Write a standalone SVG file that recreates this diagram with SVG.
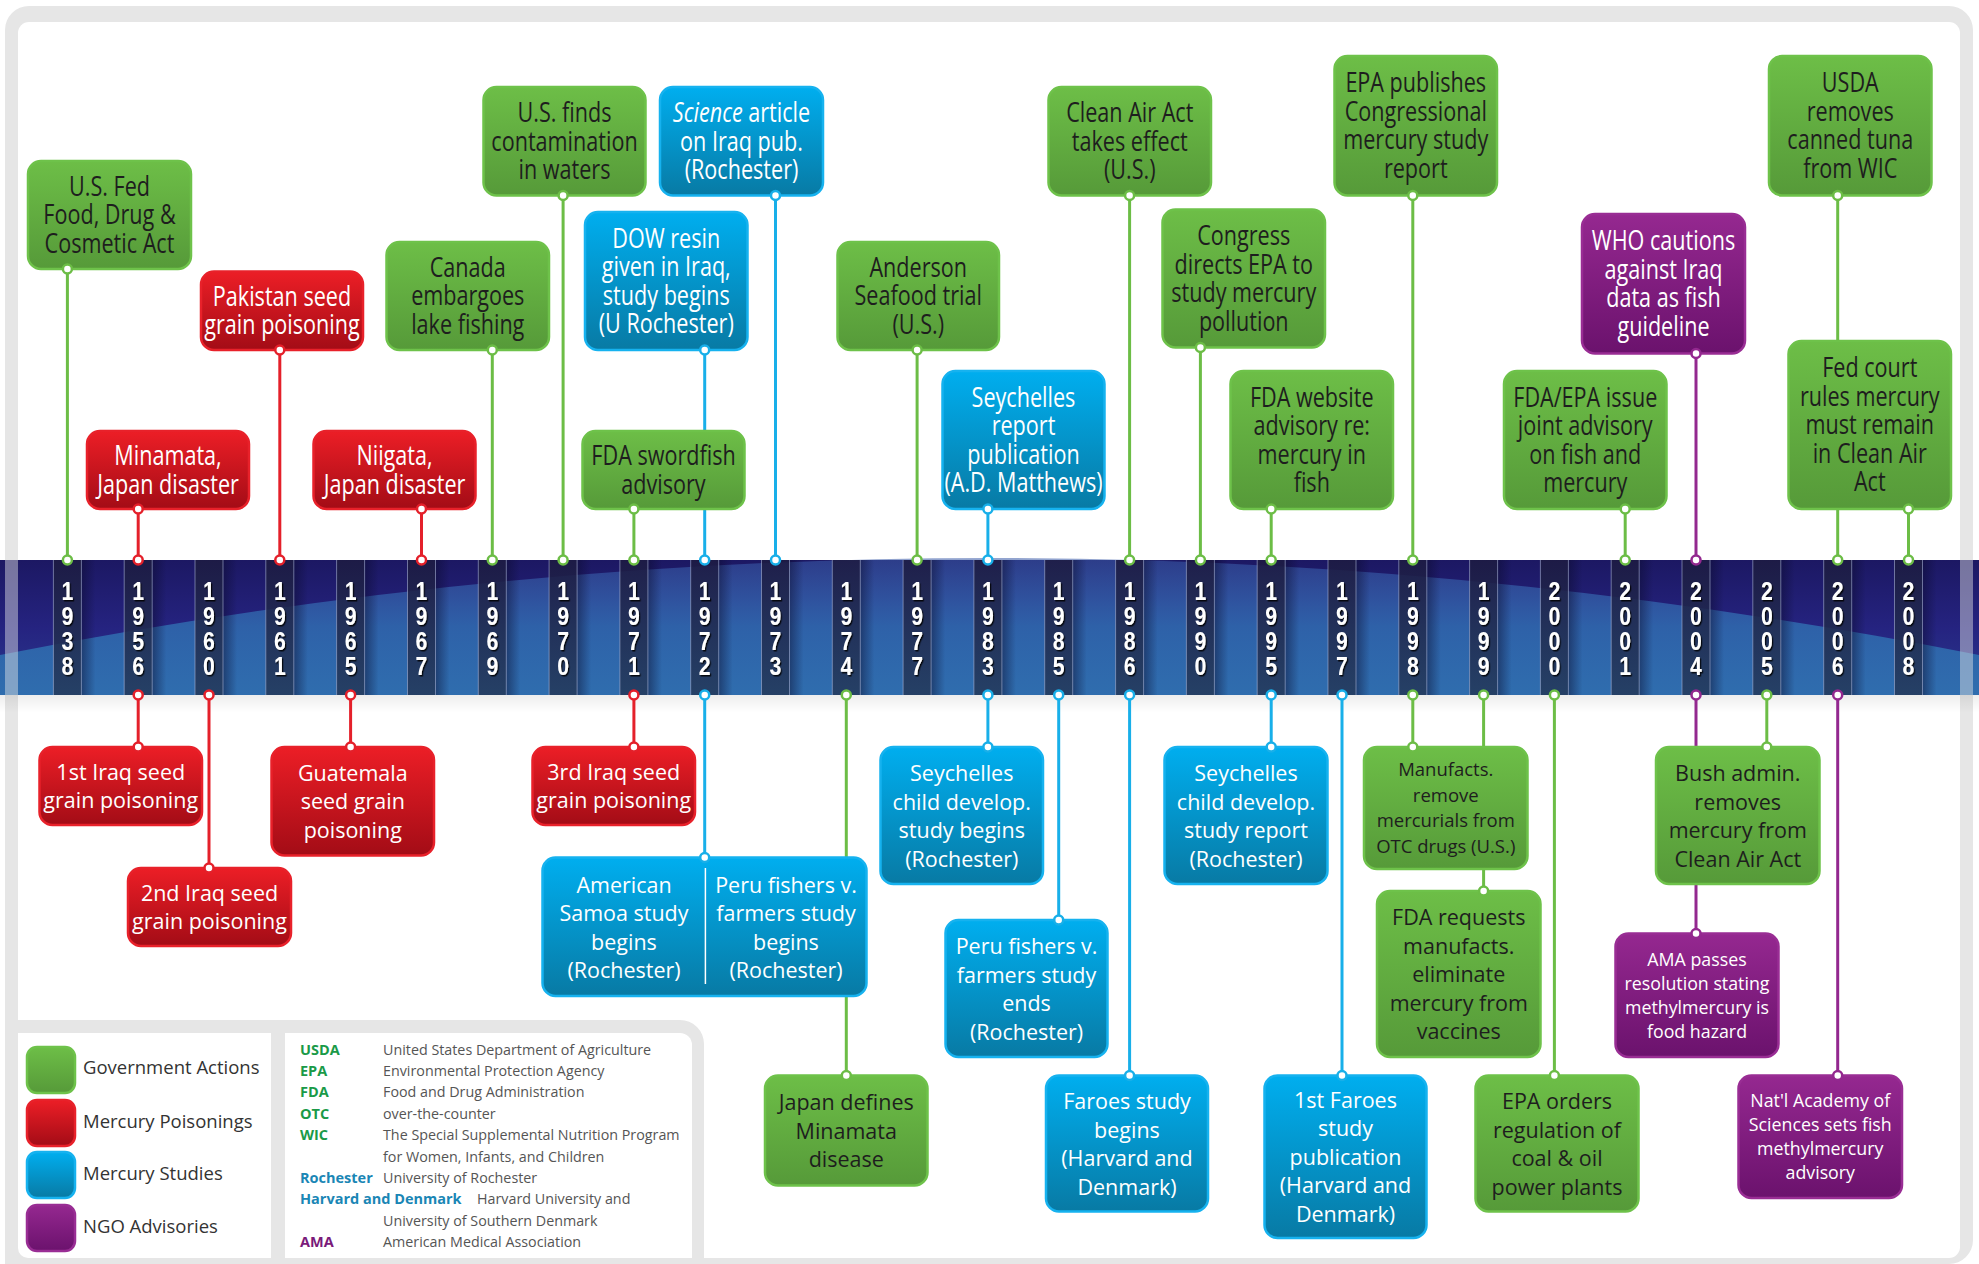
<svg xmlns="http://www.w3.org/2000/svg" xmlns:xlink="http://www.w3.org/1999/xlink" width="1979" height="1264" viewBox="0 0 1979 1264">
<defs>
<linearGradient id="gG" x1="0" y1="0" x2="0" y2="1"><stop offset="0" stop-color="#6dbe47"/><stop offset="1" stop-color="#569a39"/></linearGradient>
<linearGradient id="gR" x1="0" y1="0" x2="0" y2="1"><stop offset="0" stop-color="#ec1e26"/><stop offset="1" stop-color="#a30c16"/></linearGradient>
<linearGradient id="gB" x1="0" y1="0" x2="0" y2="1"><stop offset="0" stop-color="#00aeef"/><stop offset="1" stop-color="#087aa4"/></linearGradient>
<linearGradient id="gP" x1="0" y1="0" x2="0" y2="1"><stop offset="0" stop-color="#952890"/><stop offset="1" stop-color="#6b126d"/></linearGradient>
<linearGradient id="band" x1="0" y1="0" x2="0" y2="1"><stop offset="0" stop-color="#1c1863"/><stop offset="0.5" stop-color="#252380"/><stop offset="1" stop-color="#2a3a8e"/></linearGradient>
<linearGradient id="bandLight" x1="0" y1="0" x2="0" y2="1"><stop offset="0" stop-color="#3a5aa8" stop-opacity="0.55"/><stop offset="0.5" stop-color="#2f68ad" stop-opacity="0.9"/><stop offset="1" stop-color="#2f6dae"/></linearGradient>
<linearGradient id="stripG" x1="0" y1="0" x2="0" y2="1"><stop offset="0" stop-color="#1d1b42"/><stop offset="1" stop-color="#243a5c"/></linearGradient>
<linearGradient id="shadeG" x1="0" y1="0" x2="1" y2="0"><stop offset="0" stop-color="#0a0a2a" stop-opacity="0.45"/><stop offset="1" stop-color="#0a0a2a" stop-opacity="0"/></linearGradient>
<linearGradient id="underG" x1="0" y1="0" x2="0" y2="1"><stop offset="0" stop-color="#000" stop-opacity="0.07"/><stop offset="1" stop-color="#000" stop-opacity="0"/></linearGradient>
<filter id="ds" x="-50%" y="-20%" width="200%" height="140%"><feDropShadow dx="1.5" dy="1.5" stdDeviation="0.7" flood-color="#000" flood-opacity="0.85"/></filter>
<g id="strip">
<rect x="-14" y="560" width="28" height="135" fill="url(#stripG)" opacity="0.88"/>
<rect x="14" y="560" width="14" height="135" fill="url(#shadeG)"/>
<line x1="-14" y1="560" x2="-14" y2="695" stroke="#a6b0d2" stroke-width="1" opacity="0.6"/>
<line x1="14" y1="560" x2="14" y2="695" stroke="#a6b0d2" stroke-width="1" opacity="0.6"/>
</g>
</defs>
<style>
.g{fill:url(#gG);stroke:#6ec24a;stroke-width:2.5}
.r{fill:url(#gR);stroke:#e8212a;stroke-width:2.5}
.b{fill:url(#gB);stroke:#16b2ef;stroke-width:2.5}
.p{fill:url(#gP);stroke:#992d94;stroke-width:2.5}
.tn{font-family:'Open Sans','Noto Sans',sans-serif;font-size:27px;text-anchor:middle}
.tw{font-family:'Open Sans','Noto Sans',sans-serif;font-size:21.5px;text-anchor:middle}
.ts{font-family:'Open Sans','Noto Sans',sans-serif;font-size:18.5px;text-anchor:middle}
.tx{font-family:'Open Sans','Noto Sans',sans-serif;font-size:17.8px;text-anchor:middle}
.dk{fill:#1e1e1e}
.lt{fill:#ffffff}
.yr{font-family:'Liberation Sans','Arial',sans-serif;font-size:25px;font-weight:bold;fill:#fff;text-anchor:middle;filter:url(#ds)}
.cn line{stroke-width:3}
.lg{stroke:#6cbd46}.lr{stroke:#e4202a}.lb{stroke:#18afe9}.lp{stroke:#93288f}
.dots circle{fill:#fff;stroke-width:2.5}
.dg{stroke:#6cbd46}.dr{stroke:#e4202a}.db{stroke:#18afe9}.dp{stroke:#93288f}
.leg{font-family:'Open Sans','Noto Sans',sans-serif;font-size:18.5px;fill:#333}
.ab{font-family:'Open Sans','Noto Sans',sans-serif;font-size:14.5px;font-weight:bold}
.de{font-family:'Open Sans','Noto Sans',sans-serif;font-size:14.3px;fill:#555}
</style>

<!-- frame -->
<rect x="5" y="6" width="1968" height="1258" rx="24" fill="#e6e6e6"/>
<rect x="18" y="22" width="1942" height="1236" rx="11" fill="#ffffff"/>

<!-- timeline band -->
<g id="band-group">
<rect x="0" y="560" width="1979" height="135" fill="url(#band)"/>
<path d="M0,655 Q989.5,461 1979,655 L1979,695 L0,695 Z" fill="url(#bandLight)"/>
<rect x="0" y="695" width="1979" height="18" fill="url(#underG)"/>
<rect x="5" y="560" width="13" height="135" fill="#e6e6e6" opacity="0.45"/>
<rect x="1960" y="560" width="13" height="135" fill="#e6e6e6" opacity="0.45"/>
</g>

<g id="years">
<g transform="translate(67.4,0)"><use xlink:href="#strip"/><text class="yr" transform="scale(0.85 1)"><tspan x="0" y="600">1</tspan><tspan x="0" y="625">9</tspan><tspan x="0" y="650">3</tspan><tspan x="0" y="675">8</tspan></text></g>
<g transform="translate(138.2,0)"><use xlink:href="#strip"/><text class="yr" transform="scale(0.85 1)"><tspan x="0" y="600">1</tspan><tspan x="0" y="625">9</tspan><tspan x="0" y="650">5</tspan><tspan x="0" y="675">6</tspan></text></g>
<g transform="translate(209,0)"><use xlink:href="#strip"/><text class="yr" transform="scale(0.85 1)"><tspan x="0" y="600">1</tspan><tspan x="0" y="625">9</tspan><tspan x="0" y="650">6</tspan><tspan x="0" y="675">0</tspan></text></g>
<g transform="translate(279.8,0)"><use xlink:href="#strip"/><text class="yr" transform="scale(0.85 1)"><tspan x="0" y="600">1</tspan><tspan x="0" y="625">9</tspan><tspan x="0" y="650">6</tspan><tspan x="0" y="675">1</tspan></text></g>
<g transform="translate(350.6,0)"><use xlink:href="#strip"/><text class="yr" transform="scale(0.85 1)"><tspan x="0" y="600">1</tspan><tspan x="0" y="625">9</tspan><tspan x="0" y="650">6</tspan><tspan x="0" y="675">5</tspan></text></g>
<g transform="translate(421.5,0)"><use xlink:href="#strip"/><text class="yr" transform="scale(0.85 1)"><tspan x="0" y="600">1</tspan><tspan x="0" y="625">9</tspan><tspan x="0" y="650">6</tspan><tspan x="0" y="675">7</tspan></text></g>
<g transform="translate(492.3,0)"><use xlink:href="#strip"/><text class="yr" transform="scale(0.85 1)"><tspan x="0" y="600">1</tspan><tspan x="0" y="625">9</tspan><tspan x="0" y="650">6</tspan><tspan x="0" y="675">9</tspan></text></g>
<g transform="translate(563.1,0)"><use xlink:href="#strip"/><text class="yr" transform="scale(0.85 1)"><tspan x="0" y="600">1</tspan><tspan x="0" y="625">9</tspan><tspan x="0" y="650">7</tspan><tspan x="0" y="675">0</tspan></text></g>
<g transform="translate(633.9,0)"><use xlink:href="#strip"/><text class="yr" transform="scale(0.85 1)"><tspan x="0" y="600">1</tspan><tspan x="0" y="625">9</tspan><tspan x="0" y="650">7</tspan><tspan x="0" y="675">1</tspan></text></g>
<g transform="translate(704.7,0)"><use xlink:href="#strip"/><text class="yr" transform="scale(0.85 1)"><tspan x="0" y="600">1</tspan><tspan x="0" y="625">9</tspan><tspan x="0" y="650">7</tspan><tspan x="0" y="675">2</tspan></text></g>
<g transform="translate(775.5,0)"><use xlink:href="#strip"/><text class="yr" transform="scale(0.85 1)"><tspan x="0" y="600">1</tspan><tspan x="0" y="625">9</tspan><tspan x="0" y="650">7</tspan><tspan x="0" y="675">3</tspan></text></g>
<g transform="translate(846.3,0)"><use xlink:href="#strip"/><text class="yr" transform="scale(0.85 1)"><tspan x="0" y="600">1</tspan><tspan x="0" y="625">9</tspan><tspan x="0" y="650">7</tspan><tspan x="0" y="675">4</tspan></text></g>
<g transform="translate(917.1,0)"><use xlink:href="#strip"/><text class="yr" transform="scale(0.85 1)"><tspan x="0" y="600">1</tspan><tspan x="0" y="625">9</tspan><tspan x="0" y="650">7</tspan><tspan x="0" y="675">7</tspan></text></g>
<g transform="translate(987.9,0)"><use xlink:href="#strip"/><text class="yr" transform="scale(0.85 1)"><tspan x="0" y="600">1</tspan><tspan x="0" y="625">9</tspan><tspan x="0" y="650">8</tspan><tspan x="0" y="675">3</tspan></text></g>
<g transform="translate(1058.7,0)"><use xlink:href="#strip"/><text class="yr" transform="scale(0.85 1)"><tspan x="0" y="600">1</tspan><tspan x="0" y="625">9</tspan><tspan x="0" y="650">8</tspan><tspan x="0" y="675">5</tspan></text></g>
<g transform="translate(1129.6,0)"><use xlink:href="#strip"/><text class="yr" transform="scale(0.85 1)"><tspan x="0" y="600">1</tspan><tspan x="0" y="625">9</tspan><tspan x="0" y="650">8</tspan><tspan x="0" y="675">6</tspan></text></g>
<g transform="translate(1200.4,0)"><use xlink:href="#strip"/><text class="yr" transform="scale(0.85 1)"><tspan x="0" y="600">1</tspan><tspan x="0" y="625">9</tspan><tspan x="0" y="650">9</tspan><tspan x="0" y="675">0</tspan></text></g>
<g transform="translate(1271.2,0)"><use xlink:href="#strip"/><text class="yr" transform="scale(0.85 1)"><tspan x="0" y="600">1</tspan><tspan x="0" y="625">9</tspan><tspan x="0" y="650">9</tspan><tspan x="0" y="675">5</tspan></text></g>
<g transform="translate(1342,0)"><use xlink:href="#strip"/><text class="yr" transform="scale(0.85 1)"><tspan x="0" y="600">1</tspan><tspan x="0" y="625">9</tspan><tspan x="0" y="650">9</tspan><tspan x="0" y="675">7</tspan></text></g>
<g transform="translate(1412.8,0)"><use xlink:href="#strip"/><text class="yr" transform="scale(0.85 1)"><tspan x="0" y="600">1</tspan><tspan x="0" y="625">9</tspan><tspan x="0" y="650">9</tspan><tspan x="0" y="675">8</tspan></text></g>
<g transform="translate(1483.6,0)"><use xlink:href="#strip"/><text class="yr" transform="scale(0.85 1)"><tspan x="0" y="600">1</tspan><tspan x="0" y="625">9</tspan><tspan x="0" y="650">9</tspan><tspan x="0" y="675">9</tspan></text></g>
<g transform="translate(1554.4,0)"><use xlink:href="#strip"/><text class="yr" transform="scale(0.85 1)"><tspan x="0" y="600">2</tspan><tspan x="0" y="625">0</tspan><tspan x="0" y="650">0</tspan><tspan x="0" y="675">0</tspan></text></g>
<g transform="translate(1625.2,0)"><use xlink:href="#strip"/><text class="yr" transform="scale(0.85 1)"><tspan x="0" y="600">2</tspan><tspan x="0" y="625">0</tspan><tspan x="0" y="650">0</tspan><tspan x="0" y="675">1</tspan></text></g>
<g transform="translate(1696,0)"><use xlink:href="#strip"/><text class="yr" transform="scale(0.85 1)"><tspan x="0" y="600">2</tspan><tspan x="0" y="625">0</tspan><tspan x="0" y="650">0</tspan><tspan x="0" y="675">4</tspan></text></g>
<g transform="translate(1766.8,0)"><use xlink:href="#strip"/><text class="yr" transform="scale(0.85 1)"><tspan x="0" y="600">2</tspan><tspan x="0" y="625">0</tspan><tspan x="0" y="650">0</tspan><tspan x="0" y="675">5</tspan></text></g>
<g transform="translate(1837.7,0)"><use xlink:href="#strip"/><text class="yr" transform="scale(0.85 1)"><tspan x="0" y="600">2</tspan><tspan x="0" y="625">0</tspan><tspan x="0" y="650">0</tspan><tspan x="0" y="675">6</tspan></text></g>
<g transform="translate(1908.5,0)"><use xlink:href="#strip"/><text class="yr" transform="scale(0.85 1)"><tspan x="0" y="600">2</tspan><tspan x="0" y="625">0</tspan><tspan x="0" y="650">0</tspan><tspan x="0" y="675">8</tspan></text></g>
</g>

<!-- connectors -->
<g id="connectors" class="cn">
<line class="lg" x1="67.4" y1="269" x2="67.4" y2="560"/>
<line class="lr" x1="138.2" y1="509" x2="138.2" y2="560"/>
<line class="lr" x1="279.8" y1="350" x2="279.8" y2="560"/>
<line class="lr" x1="421.5" y1="509" x2="421.5" y2="560"/>
<line class="lg" x1="492.3" y1="350" x2="492.3" y2="560"/>
<line class="lg" x1="563.1" y1="195.5" x2="563.1" y2="560"/>
<line class="lg" x1="633.9" y1="509" x2="633.9" y2="560"/>
<line class="lb" x1="704.7" y1="350" x2="704.7" y2="560"/>
<line class="lb" x1="775.5" y1="195.5" x2="775.5" y2="560"/>
<line class="lg" x1="917.1" y1="350" x2="917.1" y2="560"/>
<line class="lb" x1="987.9" y1="509" x2="987.9" y2="560"/>
<line class="lg" x1="1129.6" y1="195.5" x2="1129.6" y2="560"/>
<line class="lg" x1="1200.4" y1="347.5" x2="1200.4" y2="560"/>
<line class="lg" x1="1271.2" y1="509" x2="1271.2" y2="560"/>
<line class="lg" x1="1412.8" y1="195.5" x2="1412.8" y2="560"/>
<line class="lg" x1="1625.2" y1="509" x2="1625.2" y2="560"/>
<line class="lp" x1="1696" y1="353.5" x2="1696" y2="560"/>
<line class="lg" x1="1837.7" y1="195.5" x2="1837.7" y2="560"/>
<line class="lg" x1="1908.5" y1="509" x2="1908.5" y2="560"/>
<line class="lr" x1="138.2" y1="695" x2="138.2" y2="747"/>
<line class="lr" x1="209" y1="695" x2="209" y2="868"/>
<line class="lr" x1="350.6" y1="695" x2="350.6" y2="747"/>
<line class="lr" x1="633.9" y1="695" x2="633.9" y2="747"/>
<line class="lb" x1="704.7" y1="695" x2="704.7" y2="857.5"/>
<line class="lg" x1="846.3" y1="695" x2="846.3" y2="1075.5"/>
<line class="lb" x1="987.9" y1="695" x2="987.9" y2="747"/>
<line class="lb" x1="1058.7" y1="695" x2="1058.7" y2="920"/>
<line class="lb" x1="1129.6" y1="695" x2="1129.6" y2="1075.5"/>
<line class="lb" x1="1271.2" y1="695" x2="1271.2" y2="747"/>
<line class="lb" x1="1342" y1="695" x2="1342" y2="1075.5"/>
<line class="lg" x1="1412.8" y1="695" x2="1412.8" y2="747"/>
<line class="lg" x1="1483.6" y1="695" x2="1483.6" y2="891"/>
<line class="lg" x1="1554.4" y1="695" x2="1554.4" y2="1075.5"/>
<line class="lp" x1="1696" y1="695" x2="1696" y2="933.5"/>
<line class="lg" x1="1766.8" y1="695" x2="1766.8" y2="747"/>
<line class="lp" x1="1837.7" y1="695" x2="1837.7" y2="1075.5"/>
</g>

<!-- top nodes -->
<g id="n1938"><rect class="g" x="28" y="161" width="163" height="108" rx="13"/><text class="tn dk" transform="translate(109.5 0) scale(0.8 1)"><tspan x="0" y="196">U.S. Fed</tspan><tspan x="0" y="224.5">Food, Drug &amp;</tspan><tspan x="0" y="253">Cosmetic Act</tspan></text></g>
<g id="n1956a"><rect class="r" x="87" y="431" width="162" height="78" rx="13"/><text class="tn lt" transform="translate(168 0) scale(0.8 1)"><tspan x="0" y="465.25">Minamata,</tspan><tspan x="0" y="493.75">Japan disaster</tspan></text></g>
<g id="n1961"><rect class="r" x="201" y="271.5" width="162" height="78.5" rx="13"/><text class="tn lt" transform="translate(282 0) scale(0.8 1)"><tspan x="0" y="306">Pakistan seed</tspan><tspan x="0" y="334.5">grain poisoning</tspan></text></g>
<g id="n1967"><rect class="r" x="313.5" y="431" width="162" height="78" rx="13"/><text class="tn lt" transform="translate(394.5 0) scale(0.8 1)"><tspan x="0" y="465.25">Niigata,</tspan><tspan x="0" y="493.75">Japan disaster</tspan></text></g>
<g id="n1969"><rect class="g" x="386.5" y="242" width="162.5" height="108" rx="13"/><text class="tn dk" transform="translate(467.75 0) scale(0.8 1)"><tspan x="0" y="277">Canada</tspan><tspan x="0" y="305.5">embargoes</tspan><tspan x="0" y="334">lake fishing</tspan></text></g>
<g id="n1970"><rect class="g" x="483.5" y="87" width="162" height="108.5" rx="13"/><text class="tn dk" transform="translate(564.5 0) scale(0.8 1)"><tspan x="0" y="122.25">U.S. finds</tspan><tspan x="0" y="150.75">contamination</tspan><tspan x="0" y="179.25">in waters</tspan></text></g>
<g id="n1973"><rect class="b" x="660" y="87" width="163" height="108.5" rx="13"/><text class="tn lt" transform="translate(741.5 0) scale(0.8 1)"><tspan x="0" y="122.25"><tspan font-style="italic">Science</tspan> article</tspan><tspan x="0" y="150.75">on Iraq pub.</tspan><tspan x="0" y="179.25">(Rochester)</tspan></text></g>
<g id="n1972a"><rect class="b" x="585" y="212" width="162.5" height="138" rx="13"/><text class="tn lt" transform="translate(666.25 0) scale(0.8 1)"><tspan x="0" y="247.75">DOW resin</tspan><tspan x="0" y="276.25">given in Iraq,</tspan><tspan x="0" y="304.75">study begins</tspan><tspan x="0" y="333.25">(U Rochester)</tspan></text></g>
<g id="n1971a"><rect class="g" x="582.5" y="431" width="162" height="78" rx="13"/><text class="tn dk" transform="translate(663.5 0) scale(0.8 1)"><tspan x="0" y="465.25">FDA swordfish</tspan><tspan x="0" y="493.75">advisory</tspan></text></g>
<g id="n1977"><rect class="g" x="837.5" y="242" width="161.5" height="108" rx="13"/><text class="tn dk" transform="translate(918.25 0) scale(0.8 1)"><tspan x="0" y="277">Anderson</tspan><tspan x="0" y="305.5">Seafood trial</tspan><tspan x="0" y="334">(U.S.)</tspan></text></g>
<g id="n1983a"><rect class="b" x="942.5" y="371" width="162" height="138" rx="13"/><text class="tn lt" transform="translate(1023.5 0) scale(0.8 1)"><tspan x="0" y="406.75">Seychelles</tspan><tspan x="0" y="435.25">report</tspan><tspan x="0" y="463.75">publication</tspan><tspan x="0" y="492.25">(A.D. Matthews)</tspan></text></g>
<g id="n1986a"><rect class="g" x="1048.5" y="87" width="162.5" height="108.5" rx="13"/><text class="tn dk" transform="translate(1129.75 0) scale(0.8 1)"><tspan x="0" y="122.25">Clean Air Act</tspan><tspan x="0" y="150.75">takes effect</tspan><tspan x="0" y="179.25">(U.S.)</tspan></text></g>
<g id="n1990"><rect class="g" x="1162.5" y="209.5" width="162.5" height="138" rx="13"/><text class="tn dk" transform="translate(1243.75 0) scale(0.8 1)"><tspan x="0" y="245.25">Congress</tspan><tspan x="0" y="273.75">directs EPA to</tspan><tspan x="0" y="302.25">study mercury</tspan><tspan x="0" y="330.75">pollution</tspan></text></g>
<g id="n1995a"><rect class="g" x="1230.5" y="371" width="162.5" height="138" rx="13"/><text class="tn dk" transform="translate(1311.75 0) scale(0.8 1)"><tspan x="0" y="406.75">FDA website</tspan><tspan x="0" y="435.25">advisory re:</tspan><tspan x="0" y="463.75">mercury in</tspan><tspan x="0" y="492.25">fish</tspan></text></g>
<g id="n1998a"><rect class="g" x="1334.5" y="56" width="162.5" height="139.5" rx="13"/><text class="tn dk" transform="translate(1415.75 0) scale(0.8 1)"><tspan x="0" y="92.5">EPA publishes</tspan><tspan x="0" y="121">Congressional</tspan><tspan x="0" y="149.5">mercury study</tspan><tspan x="0" y="178">report</tspan></text></g>
<g id="n2004a"><rect class="p" x="1582" y="214" width="163" height="139.5" rx="13"/><text class="tn lt" transform="translate(1663.5 0) scale(0.8 1)"><tspan x="0" y="250.5">WHO cautions</tspan><tspan x="0" y="279">against Iraq</tspan><tspan x="0" y="307.5">data as fish</tspan><tspan x="0" y="336">guideline</tspan></text></g>
<g id="n2001"><rect class="g" x="1504" y="371" width="162.5" height="138" rx="13"/><text class="tn dk" transform="translate(1585.25 0) scale(0.8 1)"><tspan x="0" y="406.75">FDA/EPA issue</tspan><tspan x="0" y="435.25">joint advisory</tspan><tspan x="0" y="463.75">on fish and</tspan><tspan x="0" y="492.25">mercury</tspan></text></g>
<g id="n2006a"><rect class="g" x="1769" y="56" width="162.5" height="139.5" rx="13"/><text class="tn dk" transform="translate(1850.25 0) scale(0.8 1)"><tspan x="0" y="92.5">USDA</tspan><tspan x="0" y="121">removes</tspan><tspan x="0" y="149.5">canned tuna</tspan><tspan x="0" y="178">from WIC</tspan></text></g>
<g id="n2008"><rect class="g" x="1788.5" y="341" width="162.5" height="168" rx="13"/><text class="tn dk" transform="translate(1869.75 0) scale(0.8 1)"><tspan x="0" y="377.5">Fed court</tspan><tspan x="0" y="406">rules mercury</tspan><tspan x="0" y="434.5">must remain</tspan><tspan x="0" y="463">in Clean Air</tspan><tspan x="0" y="491.5">Act</tspan></text></g>

<!-- bottom nodes -->
<g id="n1956b"><rect class="r" x="39.5" y="747" width="162.5" height="78" rx="13"/><text class="tw lt"><tspan x="120.75" y="779.75">1st Iraq seed</tspan><tspan x="120.75" y="808.25">grain poisoning</tspan></text></g>
<g id="n1960"><rect class="r" x="128" y="868" width="163" height="78" rx="13"/><text class="tw lt"><tspan x="209.5" y="900.75">2nd Iraq seed</tspan><tspan x="209.5" y="929.25">grain poisoning</tspan></text></g>
<g id="n1965"><rect class="r" x="271.5" y="747" width="162.5" height="108.5" rx="13"/><text class="tw lt"><tspan x="352.75" y="780.75">Guatemala</tspan><tspan x="352.75" y="809.25">seed grain</tspan><tspan x="352.75" y="837.75">poisoning</tspan></text></g>
<g id="n1971b"><rect class="r" x="532.5" y="747" width="162.5" height="78" rx="13"/><text class="tw lt"><tspan x="613.75" y="779.75">3rd Iraq seed</tspan><tspan x="613.75" y="808.25">grain poisoning</tspan></text></g>
<g id="n1972b"><rect class="b" x="542.5" y="857.5" width="324" height="138.5" rx="13"/><line x1="705.4" y1="868" x2="705.4" y2="984" stroke="#ffffff" stroke-width="1.5"/><text class="tw lt"><tspan x="624" y="892.5">American</tspan><tspan x="624" y="921">Samoa study</tspan><tspan x="624" y="949.5">begins</tspan><tspan x="624" y="978">(Rochester)</tspan></text><text class="tw lt"><tspan x="786" y="892.5">Peru fishers v.</tspan><tspan x="786" y="921">farmers study</tspan><tspan x="786" y="949.5">begins</tspan><tspan x="786" y="978">(Rochester)</tspan></text></g>
<g id="n1974"><rect class="g" x="765" y="1075.5" width="162.5" height="110" rx="13"/><text class="tw dk"><tspan x="846.25" y="1110">Japan defines</tspan><tspan x="846.25" y="1138.5">Minamata</tspan><tspan x="846.25" y="1167">disease</tspan></text></g>
<g id="n1983b"><rect class="b" x="880.5" y="747" width="162.5" height="137" rx="13"/><text class="tw lt"><tspan x="961.75" y="781.25">Seychelles</tspan><tspan x="961.75" y="809.75">child develop.</tspan><tspan x="961.75" y="838.25">study begins</tspan><tspan x="961.75" y="866.75">(Rochester)</tspan></text></g>
<g id="n1985"><rect class="b" x="945.5" y="920" width="162" height="137" rx="13"/><text class="tw lt"><tspan x="1026.5" y="954.25">Peru fishers v.</tspan><tspan x="1026.5" y="982.75">farmers study</tspan><tspan x="1026.5" y="1011.25">ends</tspan><tspan x="1026.5" y="1039.75">(Rochester)</tspan></text></g>
<g id="n1986b"><rect class="b" x="1046" y="1075.5" width="162" height="136" rx="13"/><text class="tw lt"><tspan x="1127" y="1109.25">Faroes study</tspan><tspan x="1127" y="1137.75">begins</tspan><tspan x="1127" y="1166.25">(Harvard and</tspan><tspan x="1127" y="1194.75">Denmark)</tspan></text></g>
<g id="n1995b"><rect class="b" x="1164.5" y="747" width="163" height="137" rx="13"/><text class="tw lt"><tspan x="1246" y="781.25">Seychelles</tspan><tspan x="1246" y="809.75">child develop.</tspan><tspan x="1246" y="838.25">study report</tspan><tspan x="1246" y="866.75">(Rochester)</tspan></text></g>
<g id="n1997"><rect class="b" x="1264.5" y="1075.5" width="162" height="162.5" rx="13"/><text class="tw lt"><tspan x="1345.5" y="1107.75">1st Faroes</tspan><tspan x="1345.5" y="1136.25">study</tspan><tspan x="1345.5" y="1164.75">publication</tspan><tspan x="1345.5" y="1193.25">(Harvard and</tspan><tspan x="1345.5" y="1221.75">Denmark)</tspan></text></g>
<g id="n1998b"><rect class="g" x="1364" y="747" width="163.5" height="122" rx="13"/><text class="ts dk"><tspan x="1445.75" y="776.25">Manufacts.</tspan><tspan x="1445.75" y="801.75">remove</tspan><tspan x="1445.75" y="827.25">mercurials from</tspan><tspan x="1445.75" y="852.75">OTC drugs (U.S.)</tspan></text></g>
<g id="n1999"><rect class="g" x="1377" y="891" width="163.5" height="166" rx="13"/><text class="tw dk"><tspan x="1458.75" y="925">FDA requests</tspan><tspan x="1458.75" y="953.5">manufacts.</tspan><tspan x="1458.75" y="982">eliminate</tspan><tspan x="1458.75" y="1010.5">mercury from</tspan><tspan x="1458.75" y="1039">vaccines</tspan></text></g>
<g id="n2000"><rect class="g" x="1475.5" y="1075.5" width="163" height="136" rx="13"/><text class="tw dk"><tspan x="1557" y="1109.25">EPA orders</tspan><tspan x="1557" y="1137.75">regulation of</tspan><tspan x="1557" y="1166.25">coal &amp; oil</tspan><tspan x="1557" y="1194.75">power plants</tspan></text></g>
<g id="n2005"><rect class="g" x="1656" y="747" width="163.5" height="137" rx="13"/><text class="tw dk"><tspan x="1737.75" y="781.25">Bush admin.</tspan><tspan x="1737.75" y="809.75">removes</tspan><tspan x="1737.75" y="838.25">mercury from</tspan><tspan x="1737.75" y="866.75">Clean Air Act</tspan></text></g>
<g id="n2004b"><rect class="p" x="1615.5" y="933.5" width="163" height="123.5" rx="13"/><text class="tx lt"><tspan x="1697" y="965.75">AMA passes</tspan><tspan x="1697" y="989.75">resolution stating</tspan><tspan x="1697" y="1013.75">methylmercury is</tspan><tspan x="1697" y="1037.75">food hazard</tspan></text></g>
<g id="n2006b"><rect class="p" x="1738.5" y="1075.5" width="163.5" height="122.5" rx="13"/><text class="tx lt"><tspan x="1820.25" y="1107.25">Nat'l Academy of</tspan><tspan x="1820.25" y="1131.25">Sciences sets fish</tspan><tspan x="1820.25" y="1155.25">methylmercury</tspan><tspan x="1820.25" y="1179.25">advisory</tspan></text></g>

<!-- connector end dots -->
<g id="connector-dots" class="dots">
<circle class="dg" cx="67.4" cy="269" r="4.5"/><circle class="dg" cx="67.4" cy="560" r="4.5"/>
<circle class="dr" cx="138.2" cy="509" r="4.5"/><circle class="dr" cx="138.2" cy="560" r="4.5"/>
<circle class="dr" cx="279.8" cy="350" r="4.5"/><circle class="dr" cx="279.8" cy="560" r="4.5"/>
<circle class="dr" cx="421.5" cy="509" r="4.5"/><circle class="dr" cx="421.5" cy="560" r="4.5"/>
<circle class="dg" cx="492.3" cy="350" r="4.5"/><circle class="dg" cx="492.3" cy="560" r="4.5"/>
<circle class="dg" cx="563.1" cy="195.5" r="4.5"/><circle class="dg" cx="563.1" cy="560" r="4.5"/>
<circle class="dg" cx="633.9" cy="509" r="4.5"/><circle class="dg" cx="633.9" cy="560" r="4.5"/>
<circle class="db" cx="704.7" cy="350" r="4.5"/><circle class="db" cx="704.7" cy="560" r="4.5"/>
<circle class="db" cx="775.5" cy="195.5" r="4.5"/><circle class="db" cx="775.5" cy="560" r="4.5"/>
<circle class="dg" cx="917.1" cy="350" r="4.5"/><circle class="dg" cx="917.1" cy="560" r="4.5"/>
<circle class="db" cx="987.9" cy="509" r="4.5"/><circle class="db" cx="987.9" cy="560" r="4.5"/>
<circle class="dg" cx="1129.6" cy="195.5" r="4.5"/><circle class="dg" cx="1129.6" cy="560" r="4.5"/>
<circle class="dg" cx="1200.4" cy="347.5" r="4.5"/><circle class="dg" cx="1200.4" cy="560" r="4.5"/>
<circle class="dg" cx="1271.2" cy="509" r="4.5"/><circle class="dg" cx="1271.2" cy="560" r="4.5"/>
<circle class="dg" cx="1412.8" cy="195.5" r="4.5"/><circle class="dg" cx="1412.8" cy="560" r="4.5"/>
<circle class="dg" cx="1625.2" cy="509" r="4.5"/><circle class="dg" cx="1625.2" cy="560" r="4.5"/>
<circle class="dp" cx="1696" cy="353.5" r="4.5"/><circle class="dp" cx="1696" cy="560" r="4.5"/>
<circle class="dg" cx="1837.7" cy="195.5" r="4.5"/><circle class="dg" cx="1837.7" cy="560" r="4.5"/>
<circle class="dg" cx="1908.5" cy="509" r="4.5"/><circle class="dg" cx="1908.5" cy="560" r="4.5"/>
<circle class="dr" cx="138.2" cy="695" r="4.5"/><circle class="dr" cx="138.2" cy="747" r="4.5"/>
<circle class="dr" cx="209" cy="695" r="4.5"/><circle class="dr" cx="209" cy="868" r="4.5"/>
<circle class="dr" cx="350.6" cy="695" r="4.5"/><circle class="dr" cx="350.6" cy="747" r="4.5"/>
<circle class="dr" cx="633.9" cy="695" r="4.5"/><circle class="dr" cx="633.9" cy="747" r="4.5"/>
<circle class="db" cx="704.7" cy="695" r="4.5"/><circle class="db" cx="704.7" cy="857.5" r="4.5"/>
<circle class="dg" cx="846.3" cy="695" r="4.5"/><circle class="dg" cx="846.3" cy="1075.5" r="4.5"/>
<circle class="db" cx="987.9" cy="695" r="4.5"/><circle class="db" cx="987.9" cy="747" r="4.5"/>
<circle class="db" cx="1058.7" cy="695" r="4.5"/><circle class="db" cx="1058.7" cy="920" r="4.5"/>
<circle class="db" cx="1129.6" cy="695" r="4.5"/><circle class="db" cx="1129.6" cy="1075.5" r="4.5"/>
<circle class="db" cx="1271.2" cy="695" r="4.5"/><circle class="db" cx="1271.2" cy="747" r="4.5"/>
<circle class="db" cx="1342" cy="695" r="4.5"/><circle class="db" cx="1342" cy="1075.5" r="4.5"/>
<circle class="dg" cx="1412.8" cy="695" r="4.5"/><circle class="dg" cx="1412.8" cy="747" r="4.5"/>
<circle class="dg" cx="1483.6" cy="695" r="4.5"/><circle class="dg" cx="1483.6" cy="891" r="4.5"/>
<circle class="dg" cx="1554.4" cy="695" r="4.5"/><circle class="dg" cx="1554.4" cy="1075.5" r="4.5"/>
<circle class="dp" cx="1696" cy="695" r="4.5"/><circle class="dp" cx="1696" cy="933.5" r="4.5"/>
<circle class="dg" cx="1766.8" cy="695" r="4.5"/><circle class="dg" cx="1766.8" cy="747" r="4.5"/>
<circle class="dp" cx="1837.7" cy="695" r="4.5"/><circle class="dp" cx="1837.7" cy="1075.5" r="4.5"/>
</g>

<!-- legend -->
<g id="legend">
<path d="M5,1020 H680 A24,24 0 0 1 704,1044 V1264 H5 Z" fill="#e6e6e6"/>
<path d="M18,1033 H271 V1258 H28 A10,10 0 0 1 18,1248 Z" fill="#ffffff"/>
<path d="M285,1033 H680 A12,12 0 0 1 692,1045 V1258 H285 Z" fill="#ffffff"/>
<rect class="g" x="27" y="1047" width="48" height="46" rx="10"/>
<rect class="r" x="27" y="1100" width="48" height="46" rx="10"/>
<rect class="b" x="27" y="1152" width="48" height="46" rx="10"/>
<rect class="p" x="27" y="1205" width="48" height="46" rx="10"/>
<text class="leg" x="83" y="1074">Government Actions</text>
<text class="leg" x="83" y="1128">Mercury Poisonings</text>
<text class="leg" x="83" y="1180">Mercury Studies</text>
<text class="leg" x="83" y="1233">NGO Advisories</text>
<text class="ab" x="300" y="1055" fill="#1a9a48">USDA</text>
<text class="ab" x="300" y="1076" fill="#1a9a48">EPA</text>
<text class="ab" x="300" y="1097" fill="#1a9a48">FDA</text>
<text class="ab" x="300" y="1119" fill="#1a9a48">OTC</text>
<text class="ab" x="300" y="1140" fill="#1a9a48">WIC</text>
<text class="ab" x="300" y="1182.5" fill="#1a86b5">Rochester</text>
<text class="ab" x="300" y="1204" fill="#1a86b5">Harvard and Denmark</text>
<text class="ab" x="300" y="1246.5" fill="#7a1a7a">AMA</text>
<text class="de" x="383" y="1055">United States Department of Agriculture</text>
<text class="de" x="383" y="1076">Environmental Protection Agency</text>
<text class="de" x="383" y="1097">Food and Drug Administration</text>
<text class="de" x="383" y="1119">over-the-counter</text>
<text class="de" x="383" y="1140">The Special Supplemental Nutrition Program</text>
<text class="de" x="383" y="1161.5">for Women, Infants, and Children</text>
<text class="de" x="383" y="1182.5">University of Rochester</text>
<text class="de" x="477" y="1204">Harvard University and</text>
<text class="de" x="383" y="1225.5">University of Southern Denmark</text>
<text class="de" x="383" y="1246.5">American Medical Association</text>
</g>
</svg>
